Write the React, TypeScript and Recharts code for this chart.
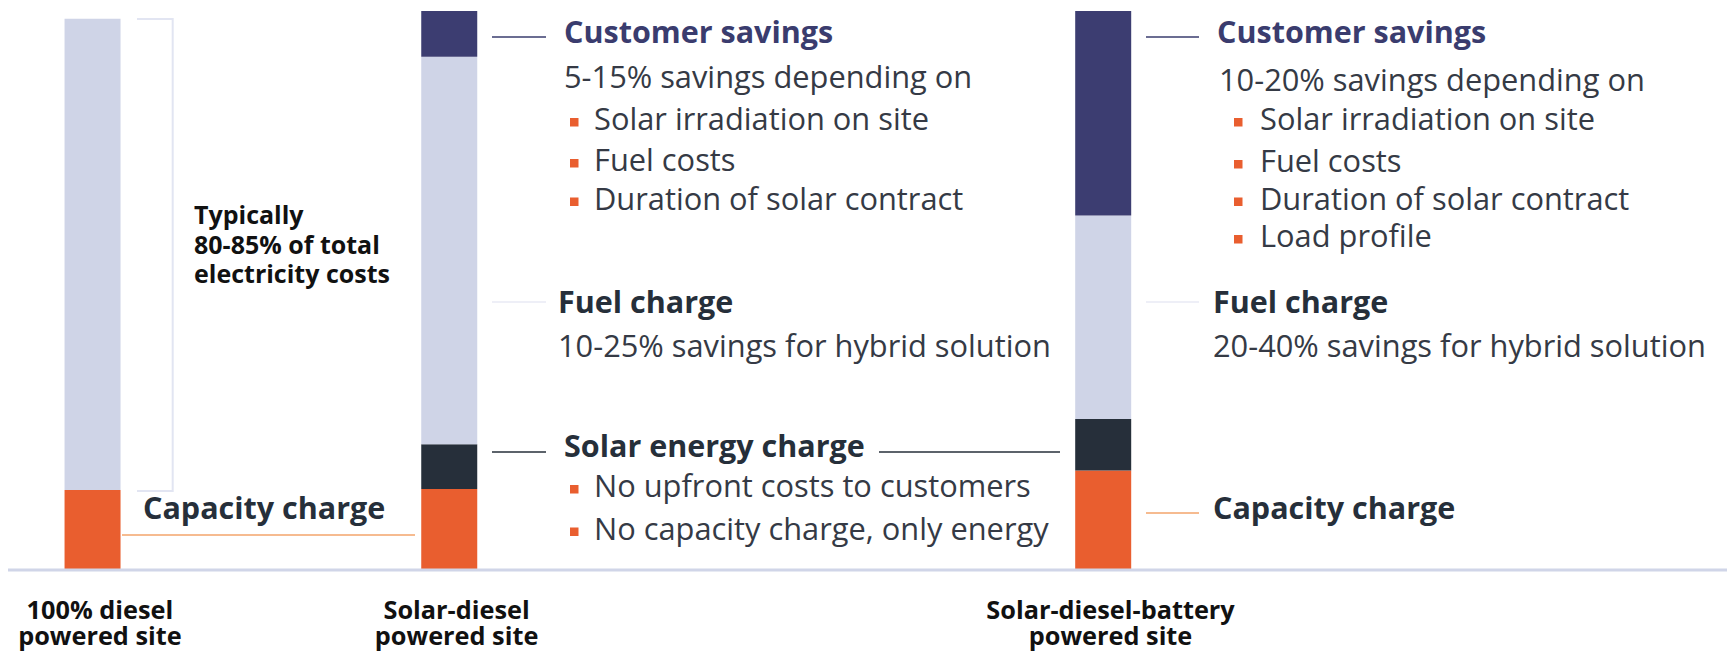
import { BarChart, Bar, XAxis, YAxis } from 'recharts';

// bar segments, share of total electricity cost (bottom to top)
const categoryLines = [
  ['100% diesel', 'powered site'],
  ['Solar-diesel', 'powered site'],
  ['Solar-diesel-battery', 'powered site'],
];
const capacityCharge = [14.3, 14.5, 17.8];
const solarEnergyCharge = [0, 8.0, 9.2];
const fuelCharge = [84.3, 69.3, 36.4];
const customerSavings = [0, 8.2, 36.6];

// annotation texts
const dieselNote = ['Typically', '80-85% of total', 'electricity costs'];
const capacityTitle = 'Capacity charge';
const savingsTitle = 'Customer savings';
const fuelTitle = 'Fuel charge';
const solarTitle = 'Solar energy charge';
const hybridSavingsText = '5-15% savings depending on';
const batterySavingsText = '10-20% savings depending on';
const hybridSavingsBullets = ['Solar irradiation on site', 'Fuel costs', 'Duration of solar contract'];
const batterySavingsBullets = ['Solar irradiation on site', 'Fuel costs', 'Duration of solar contract', 'Load profile'];
const hybridFuelText = '10-25% savings for hybrid solution';
const batteryFuelText = '20-40% savings for hybrid solution';
const solarBullets = ['No upfront costs to customers', 'No capacity charge, only energy'];

// layout: horizontal slot of each bar on the x axis (bars are not evenly spaced)
const SLOTS = [0, 6, 17];

const W = 1727;
const H = 651;
const FONT = "'Open Sans', sans-serif";
const BODY_SIZE = 30.8;
const HEAD_SIZE = 30.5;

const COLORS = {
  capacity: '#e95e2f',
  solar: '#262f3a',
  fuel: '#cfd4e7',
  savings: '#3c3d71',
  axis: '#d0d5e8',
  text: '#353a45',
  head: '#262f3a',
  navy: '#3a3c6e',
  capLine: '#f3a56b',
  fuelLine: '#dde0f0',
  bracket: '#e2e5f2',
};

const rows = categoryLines.map((lines, i) => ({
  slot: SLOTS[i],
  name: lines.join(' '),
  capacity: capacityCharge[i],
  solar: solarEnergyCharge[i],
  fuel: fuelCharge[i],
  savings: customerSavings[i],
}));

const CategoryTick = ({ x, y, payload }: any) => {
  const i = SLOTS.indexOf(payload.value);
  if (i < 0) return null;
  return (
    <g>
      {categoryLines[i].map((t, k) => (
        <text key={k} x={x + 7} y={y + 49 + k * 26} textAnchor="middle" fontFamily={FONT} fontWeight={700} fontSize={25.3} fill="#111">
          {t}
        </text>
      ))}
    </g>
  );
};

const Bullet = ({ sx, tx, y, text }: { sx: number; tx: number; y: number; text: string }) => (
  <g>
    <rect x={sx} y={y - 12} width={8.5} height={8.5} fill={COLORS.capacity} />
    <text x={tx} y={y} fontFamily={FONT} fontSize={BODY_SIZE} fill={COLORS.text}>{text}</text>
  </g>
);

const Head = ({ x, y, text, fill }: { x: number; y: number; text: string; fill: string }) => (
  <text x={x} y={y} fontFamily={FONT} fontWeight={700} fontSize={HEAD_SIZE} fill={fill}>{text}</text>
);

const Body = ({ x, y, text }: { x: number; y: number; text: string }) => (
  <text x={x} y={y} fontFamily={FONT} fontSize={BODY_SIZE} fill={COLORS.text}>{text}</text>
);

function Annotations() {
  const hybridBulletY = [130, 171, 209.5];
  const batteryBulletY = [130, 172, 209.5, 247];
  const solarBulletY = [497, 539.5];
  return (
    <svg width={W} height={H} style={{ position: 'absolute', left: 0, top: 0, pointerEvents: 'none' }}>
      {/* diesel bracket + note */}
      <polyline points="137,19 172.7,19 172.7,491 137,491" fill="none" stroke={COLORS.bracket} strokeWidth={2} />
      {dieselNote.map((t, i) => (
        <text key={t} x={194} y={224 + i * 29.5} fontFamily={FONT} fontWeight={700} fontSize={25} fill="#111">{t}</text>
      ))}
      <line x1={122} x2={415} y1={535} y2={535} stroke={COLORS.capLine} strokeWidth={1.5} />
      <Head x={143} y={519} text={capacityTitle} fill={COLORS.head} />

      {/* solar-diesel */}
      <line x1={492} x2={546} y1={37} y2={37} stroke={COLORS.navy} strokeWidth={1.5} />
      <Head x={564} y={43} text={savingsTitle} fill={COLORS.navy} />
      <Body x={564} y={88} text={hybridSavingsText} />
      {hybridSavingsBullets.map((t, i) => (
        <Bullet key={t} sx={570} tx={594} y={hybridBulletY[i]} text={t} />
      ))}
      <line x1={492} x2={546} y1={302} y2={302} stroke={COLORS.fuelLine} strokeWidth={1.2} />
      <Head x={558} y={313} text={fuelTitle} fill={COLORS.head} />
      <Body x={558} y={357} text={hybridFuelText} />
      <line x1={492} x2={546} y1={452} y2={452} stroke={COLORS.head} strokeWidth={1.5} />
      <line x1={879} x2={1060} y1={452} y2={452} stroke={COLORS.head} strokeWidth={1.5} />
      <Head x={564} y={457} text={solarTitle} fill={COLORS.head} />
      {solarBullets.map((t, i) => (
        <Bullet key={t} sx={570} tx={594} y={solarBulletY[i]} text={t} />
      ))}

      {/* solar-diesel-battery */}
      <line x1={1146} x2={1199} y1={37} y2={37} stroke={COLORS.navy} strokeWidth={1.5} />
      <Head x={1217} y={43} text={savingsTitle} fill={COLORS.navy} />
      <Body x={1219} y={91} text={batterySavingsText} />
      {batterySavingsBullets.map((t, i) => (
        <Bullet key={t} sx={1234} tx={1260} y={batteryBulletY[i]} text={t} />
      ))}
      <line x1={1146} x2={1199} y1={302} y2={302} stroke={COLORS.fuelLine} strokeWidth={1.2} />
      <Head x={1213} y={313} text={fuelTitle} fill={COLORS.head} />
      <Body x={1213} y={357} text={batteryFuelText} />
      <line x1={1146} x2={1199} y1={513} y2={513} stroke={COLORS.capLine} strokeWidth={1.5} />
      <Head x={1213} y={518.5} text={capacityTitle} fill={COLORS.head} />
    </svg>
  );
}

export default function App() {
  return (
    <div style={{ position: 'absolute', left: 0, top: 0, width: W, height: H, background: '#fff' }}>
      <BarChart width={W} height={H} data={rows} margin={{ top: 11, right: 0, bottom: 0, left: 8 }} barSize={56}>
        <XAxis
          type="number"
          dataKey="slot"
          domain={[-1.428, 27.487]}
          ticks={SLOTS}
          interval={0}
          tick={<CategoryTick />}
          tickLine={false}
          tickSize={0}
          tickMargin={0}
          height={81}
          axisLine={{ stroke: COLORS.axis, strokeWidth: 3 }}
        />
        <YAxis hide width={0} domain={[0, 100]} />
        <Bar dataKey="capacity" stackId="a" fill={COLORS.capacity} isAnimationActive={false} />
        <Bar dataKey="solar" stackId="a" fill={COLORS.solar} isAnimationActive={false} />
        <Bar dataKey="fuel" stackId="a" fill={COLORS.fuel} isAnimationActive={false} />
        <Bar dataKey="savings" stackId="a" fill={COLORS.savings} isAnimationActive={false} />
      </BarChart>
      <Annotations />
    </div>
  );
}
